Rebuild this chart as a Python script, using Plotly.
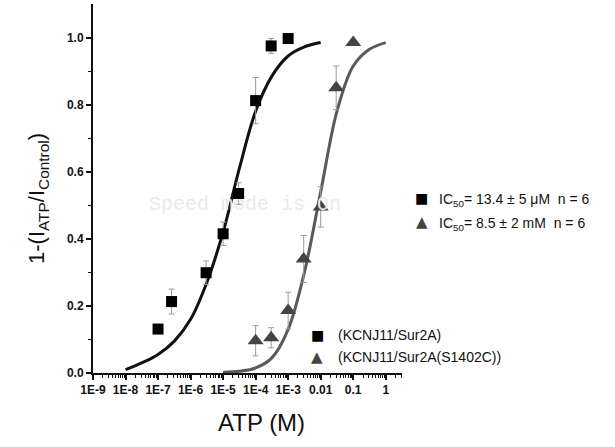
import plotly.graph_objects as go

# ---- data ----
atp_sq = [1e-7, 2.6e-7, 3e-6, 1e-5, 3e-5, 1e-4, 3e-4, 1e-3]
resp_sq = [0.131, 0.213, 0.299, 0.415, 0.535, 0.812, 0.975, 0.997]
err_sq = [0.0, 0.037, 0.035, 0.035, 0.032, 0.069, 0.022, 0.0]

atp_tri = [1e-4, 3e-4, 1e-3, 3e-3, 1e-2, 3e-2, 1e-1]
resp_tri = [0.096, 0.105, 0.186, 0.340, 0.495, 0.850, 0.985]
err_tri = [0.045, 0.03, 0.055, 0.07, 0.06, 0.065, 0.0]

# fitted curves
fit1_x = [1e-8, 3.16e-8, 1e-7, 3.16e-7, 1e-6, 3.16e-6, 1e-5, 3.16e-5, 1e-4, 3.16e-4, 1e-3, 3.16e-3, 1e-2]
fit1_y = [0.01, 0.03, 0.055, 0.095, 0.16, 0.27, 0.42, 0.61, 0.78, 0.885, 0.945, 0.972, 0.985]
fit2_x = [1e-5, 3.16e-5, 1e-4, 3.16e-4, 1e-3, 3.16e-3, 1e-2, 3.16e-2, 1e-1, 3.16e-1, 1.0]
fit2_y = [0.002, 0.005, 0.015, 0.045, 0.13, 0.30, 0.54, 0.78, 0.915, 0.965, 0.985]

x_tickvals = [1e-9, 1e-8, 1e-7, 1e-6, 1e-5, 1e-4, 1e-3, 1e-2, 1e-1, 1]
x_ticktext = ["1E-9", "1E-8", "1E-7", "1E-6", "1E-5", "1E-4", "1E-3", "0.01", "0.1", "1"]
y_tickvals = [0.0, 0.2, 0.4, 0.6, 0.8, 1.0]
y_ticktext = ["0.0", "0.2", "0.4", "0.6", "0.8", "1.0"]

label_sq = "(KCNJ11/Sur2A)"
label_tri = "(KCNJ11/Sur2A(S1402C))"
ic50_sq = "IC<sub>50</sub>= 13.4 ± 5 μM  n = 6"
ic50_tri = "IC<sub>50</sub>= 8.5 ± 2 mM  n = 6"

FONT = "Liberation Sans, Arial, sans-serif"
fig = go.Figure()

fig.add_trace(go.Scatter(x=fit1_x, y=fit1_y, mode="lines", line=dict(color="#111111", width=3, shape="spline"),
                         showlegend=False, hoverinfo="skip"))
fig.add_trace(go.Scatter(x=fit2_x, y=fit2_y, mode="lines", line=dict(color="#5a5a5a", width=3, shape="spline"),
                         showlegend=False, hoverinfo="skip"))
fig.add_trace(go.Scatter(x=atp_sq, y=resp_sq, mode="markers",
                         marker=dict(symbol="square", size=11, color="#000000"),
                         error_y=dict(type="data", array=err_sq, color="#9a9a9a", thickness=1, width=3),
                         showlegend=False))
fig.add_trace(go.Scatter(x=atp_tri, y=resp_tri, mode="markers",
                         marker=dict(symbol="triangle-up", size=14, color="#444444"),
                         error_y=dict(type="data", array=err_tri, color="#9a9a9a", thickness=1, width=3),
                         showlegend=False))

L, R, T, B = 93, 213, 4, 74
W, H = 615, 447
pw, ph = W - L - R, H - T - B

def px(xp):
    return (xp - L) / pw

def py(yp):
    return (H - B - yp) / ph

ann = []
# watermark
ann.append(dict(text="Speed mode is On", x=px(245), y=py(204), xref="paper", yref="paper", showarrow=False,
                font=dict(family="Liberation Mono, monospace", size=20, color="#ebebe3"), xanchor="center", yanchor="middle"))
# IC50 legend
ann.append(dict(text="■", x=px(422), y=py(198), xref="paper", yref="paper", showarrow=False,
                font=dict(family="DejaVu Sans", size=14, color="#000"), xanchor="center", yanchor="middle"))
ann.append(dict(text=ic50_sq, x=px(437), y=py(200), xref="paper", yref="paper", showarrow=False,
                font=dict(family=FONT, size=14, color="#111"), xanchor="left", yanchor="middle"))
ann.append(dict(text="▲", x=px(422), y=py(222), xref="paper", yref="paper", showarrow=False,
                font=dict(family="DejaVu Sans", size=15, color="#444"), xanchor="center", yanchor="middle"))
ann.append(dict(text=ic50_tri, x=px(437), y=py(224), xref="paper", yref="paper", showarrow=False,
                font=dict(family=FONT, size=14, color="#111"), xanchor="left", yanchor="middle"))
# series legend
ann.append(dict(text="■", x=px(317), y=py(335), xref="paper", yref="paper", showarrow=False,
                font=dict(family="DejaVu Sans", size=14, color="#000"), xanchor="center", yanchor="middle"))
ann.append(dict(text=label_sq, x=px(336), y=py(335), xref="paper", yref="paper", showarrow=False,
                font=dict(family=FONT, size=14, color="#111"), xanchor="left", yanchor="middle"))
ann.append(dict(text="▲", x=px(317), y=py(357), xref="paper", yref="paper", showarrow=False,
                font=dict(family="DejaVu Sans", size=15, color="#444"), xanchor="center", yanchor="middle"))
ann.append(dict(text=label_tri, x=px(336), y=py(357), xref="paper", yref="paper", showarrow=False,
                font=dict(family=FONT, size=14, color="#111"), xanchor="left", yanchor="middle"))
# axis titles
ann.append(dict(text="1-(I<sub>ATP</sub>/I<sub>Control</sub>)", x=px(38), y=py(199), xref="paper", yref="paper",
                showarrow=False, textangle=-90, font=dict(family=FONT, size=22, color="#111"),
                xanchor="center", yanchor="middle"))
ann.append(dict(text="ATP (M)", x=px(261), y=py(422), xref="paper", yref="paper", showarrow=False,
                font=dict(family=FONT, size=24, color="#111"), xanchor="center", yanchor="middle"))

fig.update_layout(
    width=W, height=H,
    margin=dict(l=L, r=R, t=T, b=B, pad=0),
    paper_bgcolor="white", plot_bgcolor="white",
    annotations=ann,
    showlegend=False,
)
fig.update_xaxes(type="log", range=[-9.0, 0.5], showline=True, linecolor="#111", linewidth=2,
                 showgrid=False, zeroline=False, ticks="outside", ticklen=5, tickwidth=1.5, tickcolor="#111",
                 tickmode="array", tickvals=x_tickvals, ticktext=x_ticktext,
                 tickfont=dict(family=FONT, size=12, color="#111", weight="bold"),
                 minor=dict(ticks="outside", ticklen=3, tickwidth=1, tickcolor="#111", dtick="D1"))
fig.update_yaxes(range=[0, 1.1], showline=True, linecolor="#111", linewidth=2,
                 showgrid=False, zeroline=False, ticks="outside", ticklen=5, tickwidth=1.5, tickcolor="#111",
                 tickmode="array", tickvals=y_tickvals, ticktext=y_ticktext,
                 tickfont=dict(family=FONT, size=12, color="#111", weight="bold"),
                 minor=dict(ticks="outside", ticklen=3, tickwidth=1, tickcolor="#111", tickvals=[0.1, 0.3, 0.5, 0.7, 0.9]))

fig.write_html("out.html")
